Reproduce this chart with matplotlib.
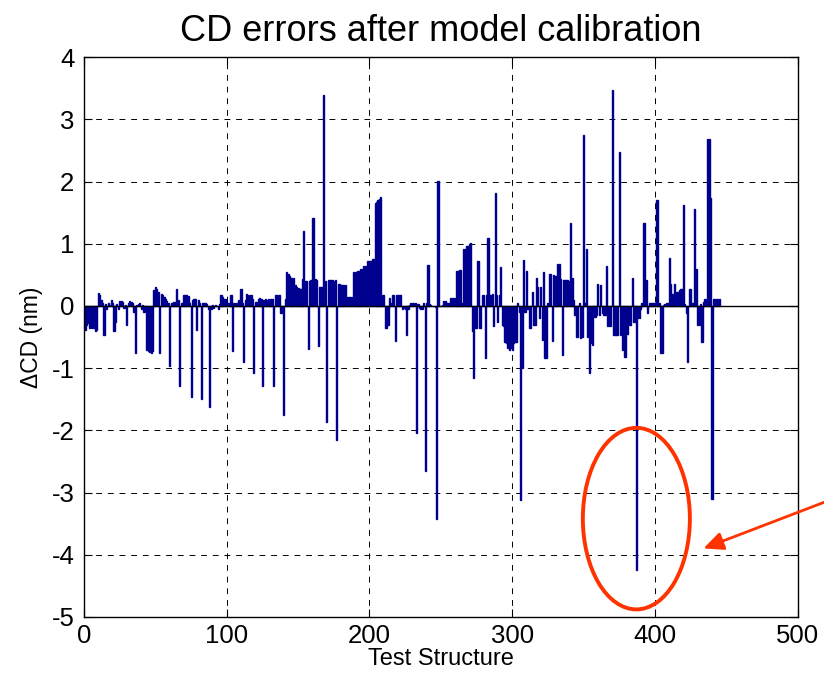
import numpy as np
import matplotlib
matplotlib.use('Agg')
import matplotlib.pyplot as plt
from matplotlib.patches import Ellipse

plt.rcParams['font.family'] = ['Liberation Sans', 'DejaVu Sans']
plt.rcParams['axes.unicode_minus'] = False

# CD error of each test structure (nm), structures 1..445
cd_err = [
	-0.39, -0.30, -0.28, -0.35, -0.36, -0.34, -0.36, -0.40, -0.38, 0.21,
	0.17, 0.10, 0.05, -0.47, 0.03, -0.05, 0.04, 0.02, 0.10, 0.05,
	-0.40, -0.25, 0.03, -0.05, 0.08, 0.08, 0.06, -0.03, 0.02, -0.30,
	0.05, 0.08, 0.07, 0.04, -0.10, -0.75, 0.02, 0.03, 0.05, -0.05,
	0.02, -0.10, -0.05, -0.70, -0.72, -0.74, -0.75, -0.73, 0.25, 0.30,
	0.28, 0.22, -0.75, 0.20, 0.18, 0.15, 0.12, 0.08, 0.05, -0.97,
	0.05, 0.04, 0.06, 0.02, 0.28, 0.10, -1.28, 0.05, 0.04, 0.17,
	0.17, 0.18, 0.16, 0.05, -1.47, 0.10, 0.12, 0.12, -0.39, 0.10,
	0.05, -1.49, 0.05, 0.04, 0.05, 0.03, -0.05, -1.63, -0.05, 0.02,
	-0.03, 0.02, 0.00, -0.05, 0.03, 0.18, 0.15, 0.12, 0.12, 0.10,
	0.05, 0.03, 0.18, -0.73, 0.05, 0.05, 0.04, 0.10, 0.08, 0.28,
	0.05, -0.90, 0.10, 0.20, 0.18, 0.15, 0.18, 0.12, -1.07, 0.07,
	0.06, 0.12, 0.13, 0.12, -1.29, 0.10, 0.12, 0.10, 0.12, 0.10,
	0.11, 0.12, -1.29, 0.18, 0.18, 0.18, 0.17, -0.12, -0.10, -1.76,
	0.12, 0.55, 0.52, 0.48, 0.45, 0.02, 0.45, 0.33, 0.30, 0.29,
	0.28, 0.27, 0.43, 1.21, 0.40, 0.40, -0.69, 0.40, 0.42, 1.42,
	1.42, 0.43, 0.42, -0.65, 0.31, 0.30, 0.30, 3.40, 0.40, -1.87,
	0.42, 0.42, 0.41, 0.42, 0.40, 0.42, -2.16, 0.35, 0.35, 0.34,
	0.33, 0.33, 0.33, 0.14, 0.14, 0.14, 0.14, 0.14, 0.55, 0.55,
	0.55, 0.56, 0.55, 0.60, 0.60, 0.65, 0.65, 0.65, 0.72, 0.72,
	0.72, 0.75, 0.75, 1.66, 1.68, 1.70, 1.72, 1.76, 0.18, 0.18,
	-0.35, -0.36, -0.30, 0.13, 0.05, 0.18, 0.18, -0.56, 0.18, 0.18,
	0.18, 0.17, -0.05, -0.04, -0.05, -0.46, -0.05, 0.02, 0.05, 0.05,
	0.05, 0.04, -2.05, 0.03, -0.04, -0.05, -0.05, 0.05, -2.65, 0.04,
	0.66, 0.03, 0.02, 0.00, 0.00, -0.02, -3.42, 2.01, 0.00, 0.00,
	0.02, 0.08, 0.08, 0.05, 0.05, 0.05, 0.13, 0.13, 0.13, 0.13,
	0.57, 0.57, 0.58, 0.58, 0.05, 0.92, 0.92, 0.97, 0.97, 1.00,
	1.01, -0.40, -1.16, -0.35, -0.35, 0.73, -0.35, -0.36, 0.18, 0.18,
	-0.83, 0.18, 1.10, 0.18, 0.18, 0.20, -0.32, 1.81, 0.18, -0.25,
	0.18, 0.62, -0.30, -0.32, -0.58, -0.60, -0.68, -0.70, -0.68, -0.70,
	-0.60, -0.58, -0.58, 0.05, -0.10, -3.12, -1.00, 0.74, -0.10, 0.57,
	-0.05, -0.35, -0.35, 0.23, -0.30, -0.30, 0.45, 0.30, -0.20, 0.30,
	-0.55, 0.55, -0.83, -0.83, 0.05, 0.52, 0.52, -0.56, 0.50, 0.48,
	0.48, 0.68, 0.68, 0.43, -0.79, 0.42, 0.42, 0.42, 0.42, 0.40,
	1.33, 0.45, 0.10, -0.15, -0.50, -0.50, 0.05, -0.52, -0.50, 2.75,
	0.05, 0.92, -0.50, -1.08, -0.60, -0.62, -0.15, -0.18, -0.15, 0.35,
	-0.15, 0.33, -0.12, -0.15, -0.14, 0.65, -0.33, -0.33, -0.33, 3.48,
	-0.47, -0.47, -0.47, -0.47, 2.47, -0.47, -0.70, -0.45, -0.82, -0.45,
	-0.45, -0.30, -0.30, 0.45, -0.25, -0.25, -4.25, -0.20, -0.20, -0.05,
	0.05, 1.33, 1.33, 0.42, -0.12, 0.05, 0.05, 0.05, 0.04, 0.05,
	1.71, 1.70, 0.05, -0.75, -0.75, 0.02, 0.03, 0.05, 0.05, 0.77,
	0.35, 0.20, 0.20, 0.35, 0.22, 0.22, 0.25, 0.27, 0.27, 1.63,
	0.03, -0.12, -0.90, 0.27, 0.27, 0.05, 0.05, 1.56, 0.60, -0.30,
	-0.30, 0.03, -0.58, 0.07, 0.12, 0.12, 2.69, 2.68, 1.74, -3.10,
	0.12, 0.12, 0.12, 0.12, 0.12,
]
structure = np.arange(1, len(cd_err) + 1)

x_ticks = [0, 100, 200, 300, 400, 500]
y_ticks = [-5, -4, -3, -2, -1, 0, 1, 2, 3, 4]

# outlier that gets circled
outlier_x = 387
outlier_y = -3.42

fig = plt.figure(figsize=(8.24, 6.9), dpi=100)
ax = fig.add_axes([0.102, 0.106, 0.866, 0.811])

ax.bar(structure, cd_err, width=0.8, color='#00008F', edgecolor='#00008F', linewidth=1.0)
ax.axhline(0, color='black', linewidth=1.0)

ax.set_xlim(0, 500)
ax.set_ylim(-5, 4)
ax.set_xticks(x_ticks)
ax.set_yticks(y_ticks)
ax.tick_params(direction='in', top=True, right=True, labelsize=18.5, length=6, pad=7)
ax.tick_params(axis='x', pad=5)
ax.grid(True, color='black', linestyle=(0, (6, 6)), linewidth=0.7)
ax.set_axisbelow(True)
for s in ax.spines.values():
	s.set_linewidth(1.0)

ax.set_title('CD errors after model calibration', fontsize=26, pad=12)
ax.set_xlabel('Test Structure', fontsize=17, labelpad=0)
ax.set_ylabel('\u0394CD (nm)', fontsize=16.5, labelpad=6)

ell = Ellipse((outlier_x, outlier_y), 75, 2.92, fill=False, edgecolor='#FF3300', linewidth=2.8)
ax.add_patch(ell)
ax.annotate('', xy=(434, -3.9), xycoords='data', xytext=(1.0, 0.272), textcoords='figure fraction',
	arrowprops=dict(arrowstyle='-|>,head_length=1.2,head_width=0.55', color='#FF3300', linewidth=2.0,
		shrinkA=0, shrinkB=0), annotation_clip=False)

fig.savefig('out.png', dpi=100)
